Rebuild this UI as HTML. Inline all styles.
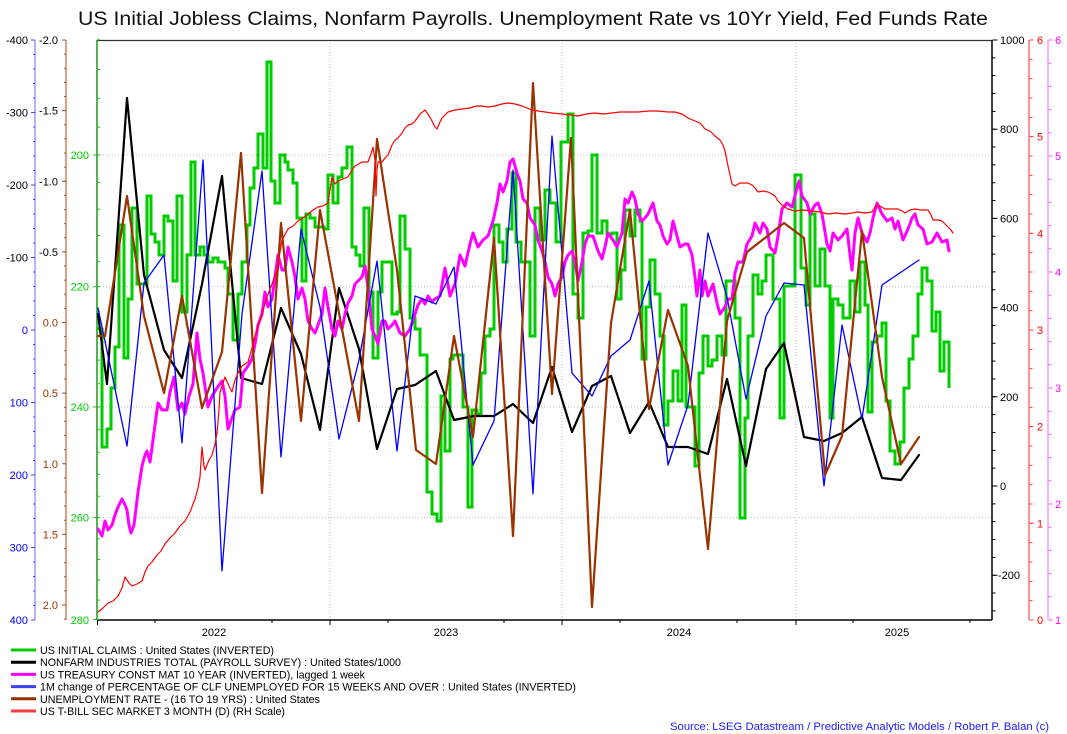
<!DOCTYPE html>
<html><head><meta charset="utf-8"><style>
html,body{margin:0;padding:0;background:#fff;}
svg{display:block;font-family:"Liberation Sans",Arial,sans-serif;}
</style></head><body>
<svg width="1067" height="734" viewBox="0 0 1067 734" xmlns="http://www.w3.org/2000/svg">
<defs><clipPath id="pc"><rect x="97" y="40" width="895" height="580"/></clipPath></defs>
<rect width="1067" height="734" fill="#fff"/>
<text x="78" y="25" font-size="19.5" fill="#111" textLength="910" lengthAdjust="spacingAndGlyphs">US Initial Jobless Claims, Nonfarm Payrolls. Unemployment Rate vs 10Yr Yield, Fed Funds Rate</text>

<!-- gridlines -->
<g stroke="#bdbdbd" stroke-width="1" stroke-dasharray="1 2" fill="none">
<line x1="97" y1="155" x2="992" y2="155"/><line x1="97" y1="286.7" x2="992" y2="286.7"/>
<line x1="97" y1="407" x2="992" y2="407"/><line x1="97" y1="517.6" x2="992" y2="517.6"/>
<line x1="330" y1="40" x2="330" y2="620"/><line x1="562" y1="40" x2="562" y2="620"/><line x1="796" y1="40" x2="796" y2="620"/>
</g>

<!-- frame -->
<line x1="97" y1="40.5" x2="992" y2="40.5" stroke="#333" stroke-width="1.2"/>
<line x1="97" y1="620" x2="992" y2="620" stroke="#000" stroke-width="1.5"/>
<line x1="992" y1="40" x2="992" y2="620" stroke="#000" stroke-width="1.5"/>

<!-- left axes -->
<line x1="35" y1="40" x2="35" y2="620" stroke="#9a9aff" stroke-width="1.5"/>
<line x1="34" y1="39.5" x2="34" y2="621" stroke="#4040ff" stroke-width="2" stroke-dasharray="1 13.5"/>
<line x1="33" y1="39.5" x2="33" y2="621" stroke="#4040ff" stroke-width="4" stroke-dasharray="1 71.5"/>
<line x1="66" y1="40" x2="66" y2="620" stroke="#c8865f" stroke-width="1.5"/>
<line x1="65" y1="39.5" x2="65" y2="621" stroke="#a0522d" stroke-width="2" stroke-dasharray="1 13.125"/>
<line x1="64" y1="39.5" x2="64" y2="621" stroke="#a0522d" stroke-width="4" stroke-dasharray="1 69.625"/>
<line x1="97" y1="40" x2="97" y2="620" stroke="#1a9a1a" stroke-width="1.5"/>
<path stroke="#22bb22" stroke-width="1" fill="none" d="M97,39.8h3M97,69.5h3M97,98.6h3M97,127.1h3M93,155h7M97,182.4h3M97,209.2h3M97,235.5h3M97,261.4h3M93,286.7h7M97,311.6h3M97,336.1h3M97,360.1h3M97,383.7h3M93,407h7M97,429.8h3M97,452.3h3M97,474.4h3M97,496.2h3M93,517.6h7M97,538.7h3M97,559.5h3M97,579.9h3M97,600.1h3M93,619.5h7"/>

<g font-size="11" text-anchor="end">
<text x="28" y="44" fill="#000">-400</text><text x="28" y="116.5" fill="#000">-300</text><text x="28" y="189" fill="#000">-200</text><text x="28" y="261.5" fill="#000">-100</text>
<text x="28" y="334" fill="#0000ff">0</text><text x="28" y="406.5" fill="#0000ff">100</text><text x="28" y="479" fill="#0000ff">200</text><text x="28" y="551.5" fill="#0000ff">300</text><text x="28" y="624" fill="#0000ff">400</text>
<text x="58" y="44" fill="#000">-2.0</text><text x="58" y="114.6" fill="#000">-1.5</text><text x="58" y="185.3" fill="#000">-1.0</text><text x="58" y="255.9" fill="#000">-0.5</text>
<text x="58" y="326.5" fill="#993300">0.0</text><text x="58" y="397.1" fill="#993300">0.5</text><text x="58" y="467.8" fill="#993300">1.0</text><text x="58" y="538.4" fill="#993300">1.5</text><text x="58" y="609" fill="#993300">2.0</text>
<text x="89" y="159" fill="#00cc00">200</text><text x="89" y="290.7" fill="#00cc00">220</text><text x="89" y="411" fill="#00cc00">240</text><text x="89" y="521.6" fill="#00cc00">260</text><text x="89" y="624" fill="#00cc00">280</text>
</g>

<!-- right axes -->
<line x1="994" y1="39.5" x2="994" y2="621" stroke="#000" stroke-width="3" stroke-dasharray="1 16.84"/>
<line x1="995" y1="39.5" x2="995" y2="621" stroke="#000" stroke-width="5" stroke-dasharray="1 88.2"/>
<line x1="1029" y1="40" x2="1029" y2="620" stroke="#ff7070" stroke-width="1.5"/>
<line x1="1031" y1="39.5" x2="1031" y2="621" stroke="#ff4040" stroke-width="3" stroke-dasharray="1 18.333"/>
<line x1="1031.5" y1="39.5" x2="1031.5" y2="621" stroke="#ff4040" stroke-width="4" stroke-dasharray="1 95.667"/>
<line x1="1048" y1="40" x2="1048" y2="620" stroke="#ff99ff" stroke-width="1.5"/>
<line x1="1050" y1="39.5" x2="1050" y2="621" stroke="#ff55ff" stroke-width="3" stroke-dasharray="1 22.2"/>
<line x1="1050.5" y1="39.5" x2="1050.5" y2="621" stroke="#ff55ff" stroke-width="4" stroke-dasharray="1 115"/>
<g font-size="11">
<text x="1000" y="44" fill="#000">1000</text><text x="1000" y="133.2" fill="#000">800</text><text x="1000" y="222.4" fill="#000">600</text><text x="1000" y="311.6" fill="#000">400</text><text x="1000" y="400.8" fill="#000">200</text><text x="1000" y="490" fill="#000">0</text><text x="998" y="579.2" fill="#000">-200</text>
<text x="1037" y="44" fill="#ff0000">6</text><text x="1037" y="140.7" fill="#ff0000">5</text><text x="1037" y="237.3" fill="#ff0000">4</text><text x="1037" y="334" fill="#ff0000">3</text><text x="1037" y="430.7" fill="#ff0000">2</text><text x="1037" y="527.3" fill="#ff0000">1</text><text x="1037" y="624" fill="#ff0000">0</text>
<text x="1055" y="44" fill="#ff00ff">6</text><text x="1055" y="160" fill="#ff00ff">5</text><text x="1055" y="276" fill="#ff00ff">4</text><text x="1055" y="392" fill="#ff00ff">3</text><text x="1055" y="508" fill="#ff00ff">2</text><text x="1055" y="624" fill="#ff00ff">1</text>
</g>

<!-- x axis -->
<path stroke="#000" stroke-width="1" fill="none" d="M97.5,620v5M330,620v5M562,620v5M796,620v5M155,620v3M272,620v3M388,620v3M504,620v3M620,620v3M737,620v3M853,620v3M970,620v3"/>
<g font-size="11" fill="#000" text-anchor="middle">
<text x="214" y="636">2022</text><text x="446" y="636">2023</text><text x="679" y="636">2024</text><text x="897" y="636">2025</text>
</g>

<!-- series -->
<g clip-path="url(#pc)" fill="none" stroke-linejoin="round" stroke-linecap="round">
<path stroke="#00cc00" stroke-width="3" stroke-linejoin="miter" stroke-linecap="butt" d="M97,329 H102 V447 H107 V429 H111 V388 H115 V347 H119 V225 H124 V358 H128 V299 H132 V208 H137 V284 H147 V196 H151 V234 H155 V242 H159 V255 H164 V216 H168 V221 H173 V281 H177 V196 H182 V312 H187 V255 H191 V162 H195 V255 H200 V247 H204 V255 H208 V262 H213 V258 H218 V262 H225 V268 H228 V294 H233 V340 H238 V294 H242 V262 H247 V225 H250 V188 H254 V168 H258 V134 H263 V168 H267 V62 H271 V181 H275 V203 H280 V155 H285 V162 H288 V170 H293 V183 H297 V218 H302 V281 H306 V214 H310 V218 H315 V227 H324 V229 H328 V175 H333 V203 H338 V177 H342 V168 H347 V147 H352 V247 H356 V255 H360 V266 H364 V208 H369 V292 H373 V358 H378 V292 H382 V262 H392 V314 H397 V312 H400 V216 H405 V249 H410 V318 H415 V329 H420 V355 H427 V492 H432 V514 H437 V521 H441 V396 H445 V451 H450 V359 H453 V355 H463 V407 H468 V507 H472 V410 H477 V414 H481 V373 H485 V336 H490 V329 H494 V225 H499 V242 H503 V262 H507 V229 H512 V173 H516 V242 H521 V262 H530 V336 H535 V208 H540 V240 H545 V190 H550 V203 H556 V242 H561 V142 H568 V114 H573 V294 H578 V318 H583 V233 H588 V231 H592 V155 H597 V233 H602 V221 H607 V234 H612 V233 H617 V299 H621 V270 H625 V210 H630 V236 H635 V210 H640 V221 H642 V359 H646 V307 H650 V260 H655 V294 H660 V336 H664 V425 H668 V401 H673 V371 H678 V401 H682 V305 H686 V407 H695 V466 H699 V373 H703 V336 H708 V366 H712 V360 H717 V336 H722 V355 H726 V281 H735 V318 H740 V518 H745 V418 H748 V336 H753 V275 H758 V294 H762 V281 H766 V255 H773 V299 H780 V418 H784 V286 H795 V175 H801 V268 H806 V305 H810 V214 H815 V286 H820 V249 H825 V286 H830 V418 H833 V299 H838 V305 H843 V318 H850 V281 H855 V312 H860 V262 H865 V305 H868 V412 H872 V342 H877 V336 H882 V323 H886 V401 H890 V451 H895 V464 H900 V442 H904 V388 H909 V359 H913 V336 H918 V294 H922 V268 H927 V281 H932 V331 H936 V312 H940 V371 H944 V342 H949 V388"/>
<path stroke="#000" stroke-width="2.2" d="M98,314 L107,384 L127,98 L144,275 L164,350 L182,378 L202,284 L222,176 L241,378 L262,384 L281,308 L301,354 L320,430 L339,288 L359,349 L377,449 L397,389 L415,385 L436,371 L454,420 L474,416 L494,416 L513,404 L533,423 L552,367 L572,432 L592,386 L611,376 L630,433 L649,402 L668,447 L688,447 L708,454 L727,379 L746,466 L766,369 L784,343 L804,437 L824,441 L842,433 L862,417 L882,478 L901,480 L919,455"/>
<path stroke="#ff00ff" stroke-width="3" d="M98,529 L102,536 L105,521 L108,530 L112,525 L115,515 L118,507 L122,499 L125,505 L127,510 L129,525 L131,533 L134,525 L138,492 L142,466 L145,455 L147,451 L150,462 L153,440 L155,425 L158,403 L162,410 L167,410 L170,392 L174,377 L178,410 L182,403 L185,414 L189,396 L193,384 L197,333 L200,359 L203,373 L208,407 L212,396 L217,388 L222,381 L225,396 L228,429 L232,418 L235,410 L240,407 L243,373 L248,366 L252,359 L255,344 L258,325 L262,314 L265,292 L268,307 L272,299 L275,277 L278,255 L282,270 L285,270 L288,247 L292,262 L295,277 L298,299 L302,288 L305,299 L308,321 L312,329 L315,333 L318,325 L322,314 L325,288 L328,307 L332,329 L335,336 L338,321 L342,329 L345,314 L348,303 L352,296 L355,284 L358,281 L362,277 L365,266 L368,288 L372,329 L375,336 L378,344 L382,321 L385,321 L388,329 L392,325 L395,321 L400,333 L405,336 L410,329 L415,314 L418,305 L422,299 L425,304 L428,296 L432,302 L435,299 L440,296 L445,268 L450,296 L455,284 L460,255 L465,266 L470,244 L473,233 L478,247 L483,240 L488,236 L493,221 L497,203 L500,184 L503,192 L507,181 L510,162 L513,159 L517,173 L520,181 L523,199 L527,203 L530,218 L535,225 L538,240 L542,251 L545,262 L548,277 L552,284 L555,296 L558,284 L562,277 L565,262 L568,255 L572,251 L575,262 L578,281 L582,262 L585,244 L588,236 L593,236 L598,251 L602,259 L605,247 L608,233 L613,240 L617,247 L622,233 L625,199 L628,203 L632,192 L635,199 L638,214 L642,221 L645,218 L648,214 L653,203 L657,221 L660,225 L663,236 L667,244 L670,240 L673,221 L677,236 L680,247 L685,244 L688,244 L692,255 L695,277 L697,296 L700,270 L702,296 L705,281 L708,296 L713,284 L717,303 L720,314 L725,307 L728,299 L732,299 L735,273 L738,262 L743,262 L747,244 L752,236 L755,223 L760,233 L763,223 L767,229 L770,247 L775,253 L778,236 L782,209 L787,203 L792,207 L797,188 L799,181 L802,196 L807,203 L810,214 L815,205 L818,203 L822,214 L827,244 L830,251 L833,233 L838,240 L842,236 L847,229 L850,255 L852,270 L855,233 L858,218 L862,233 L867,242 L870,233 L873,218 L877,203 L882,214 L887,221 L892,218 L895,229 L898,221 L903,240 L908,229 L912,218 L915,214 L918,225 L923,229 L927,244 L932,242 L937,233 L942,242 L947,240 L949,251"/>
<path stroke="#0000ff" stroke-width="1.3" d="M98,308 L127,446 L144,283 L164,255 L182,443 L203,160 L222,571 L242,314 L262,171 L281,457 L301,229 L320,307 L339,439 L359,360 L377,261 L397,451 L415,296 L436,304 L454,267 L473,465 L494,421 L513,170 L533,494 L552,136 L572,373 L592,396 L611,356 L630,340 L649,281 L668,465 L688,405 L708,233 L727,297 L746,399 L766,316 L784,283 L804,285 L824,486 L842,325 L862,419 L882,285 L919,260"/>
<path stroke="#993300" stroke-width="2.2" d="M98,336 L105,336 L127,196 L144,316 L164,393 L182,296 L202,408 L222,352 L241,153 L262,493 L281,223 L301,421 L320,210 L359,421 L377,139 L397,270 L416,450 L436,464 L454,336 L473,437 L494,238 L513,536 L533,83 L552,394 L571,138 L592,607 L611,323 L630,210 L649,409 L668,310 L688,366 L708,549 L727,321 L747,252 L784,223 L804,238 L825,475 L842,436 L862,231 L882,377 L901,464 L919,437"/>
<path stroke="#ff0000" stroke-width="1.2" d="M98,612 L103,608 L108,603 L113,601 L118,596 L122,588 L125,577 L129,583 L132,586 L137,584 L142,581 L145,572 L148,566 L152,562 L157,555 L161,551 L165,544 L170,538 L175,533 L180,526 L185,521 L190,512 L195,499 L198,488 L200,477 L202,447 L204,466 L205,470 L209,460 L212,455 L215,444 L217,433 L219,410 L220,392 L225,377 L229,386 L232,392 L235,380 L238,373 L242,366 L248,362 L252,348 L255,336 L258,326 L262,314 L267,297 L272,284 L277,270 L280,252 L282,240 L288,229 L293,226 L298,221 L303,218 L308,214 L313,210 L318,207 L323,206 L328,203 L330,190 L332,177 L335,184 L338,181 L343,179 L348,177 L352,170 L355,166 L362,162 L368,162 L371,154 L373,147 L375,160 L376,196 L377,170 L378,162 L382,162 L385,158 L388,155 L392,145 L395,140 L398,138 L402,133 L405,128 L408,125 L412,124 L415,121 L418,117 L420,114 L425,110 L428,114 L432,121 L435,127 L437,129 L440,122 L442,118 L448,112 L455,110 L462,109 L470,108 L476,106 L482,106 L488,107 L495,106 L502,104 L508,103 L515,104 L522,106 L527,108 L532,110 L538,111 L545,112 L552,113 L562,114 L570,115 L578,116 L586,114 L595,113 L603,114 L612,113 L620,112 L628,112 L638,112 L648,111 L658,111 L668,112 L675,112 L682,114 L688,118 L695,121 L700,123 L705,129 L710,131 L715,136 L720,140 L723,145 L725,151 L728,166 L732,184 L735,186 L740,183 L748,183 L752,185 L755,188 L758,192 L763,191 L768,192 L772,194 L775,196 L778,201 L782,205 L788,209 L795,211 L803,210 L812,211 L820,212 L828,214 L836,213 L845,214 L852,213 L858,212 L865,213 L872,212 L875,207 L878,205 L885,209 L891,209 L898,209 L902,211 L905,213 L910,210 L915,209 L921,210 L928,210 L931,215 L933,220 L938,220 L942,221 L945,224 L948,227 L951,230 L953,233"/>
</g>

<!-- legend -->
<g stroke-width="3">
<line x1="11" y1="650" x2="36" y2="650" stroke="#00cc00"/>
<line x1="11" y1="662.2" x2="36" y2="662.2" stroke="#000"/>
<line x1="11" y1="674.4" x2="36" y2="674.4" stroke="#ff00ff"/>
<line x1="11" y1="686.6" x2="36" y2="686.6" stroke="#4040ff"/>
<line x1="11" y1="698.8" x2="36" y2="698.8" stroke="#993300"/>
<line x1="11" y1="711" x2="36" y2="711" stroke="#ff4040"/>
</g>
<g font-size="11" fill="#000" lengthAdjust="spacingAndGlyphs">
<text x="40" y="654" textLength="234" lengthAdjust="spacingAndGlyphs">US INITIAL CLAIMS : United States (INVERTED)</text>
<text x="40" y="666.2" textLength="361" lengthAdjust="spacingAndGlyphs">NONFARM INDUSTRIES TOTAL (PAYROLL SURVEY) : United States/1000</text>
<text x="40" y="678.4" textLength="325" lengthAdjust="spacingAndGlyphs">US TREASURY CONST MAT 10 YEAR (INVERTED), lagged 1 week</text>
<text x="40" y="690.6" textLength="536" lengthAdjust="spacingAndGlyphs">1M change of PERCENTAGE OF CLF UNEMPLOYED FOR 15 WEEKS AND OVER : United States (INVERTED)</text>
<text x="40" y="702.8" textLength="280" lengthAdjust="spacingAndGlyphs">UNEMPLOYMENT RATE - (16 TO 19 YRS) : United States</text>
<text x="40" y="715" textLength="245" lengthAdjust="spacingAndGlyphs">US T-BILL SEC MARKET 3 MONTH (D) (RH Scale)</text>
</g>
<text x="670" y="730" font-size="11" fill="#1a1aff" textLength="379" lengthAdjust="spacingAndGlyphs">Source: LSEG Datastream / Predictive Analytic Models / Robert P. Balan (c)</text>
</svg>
</body></html>
